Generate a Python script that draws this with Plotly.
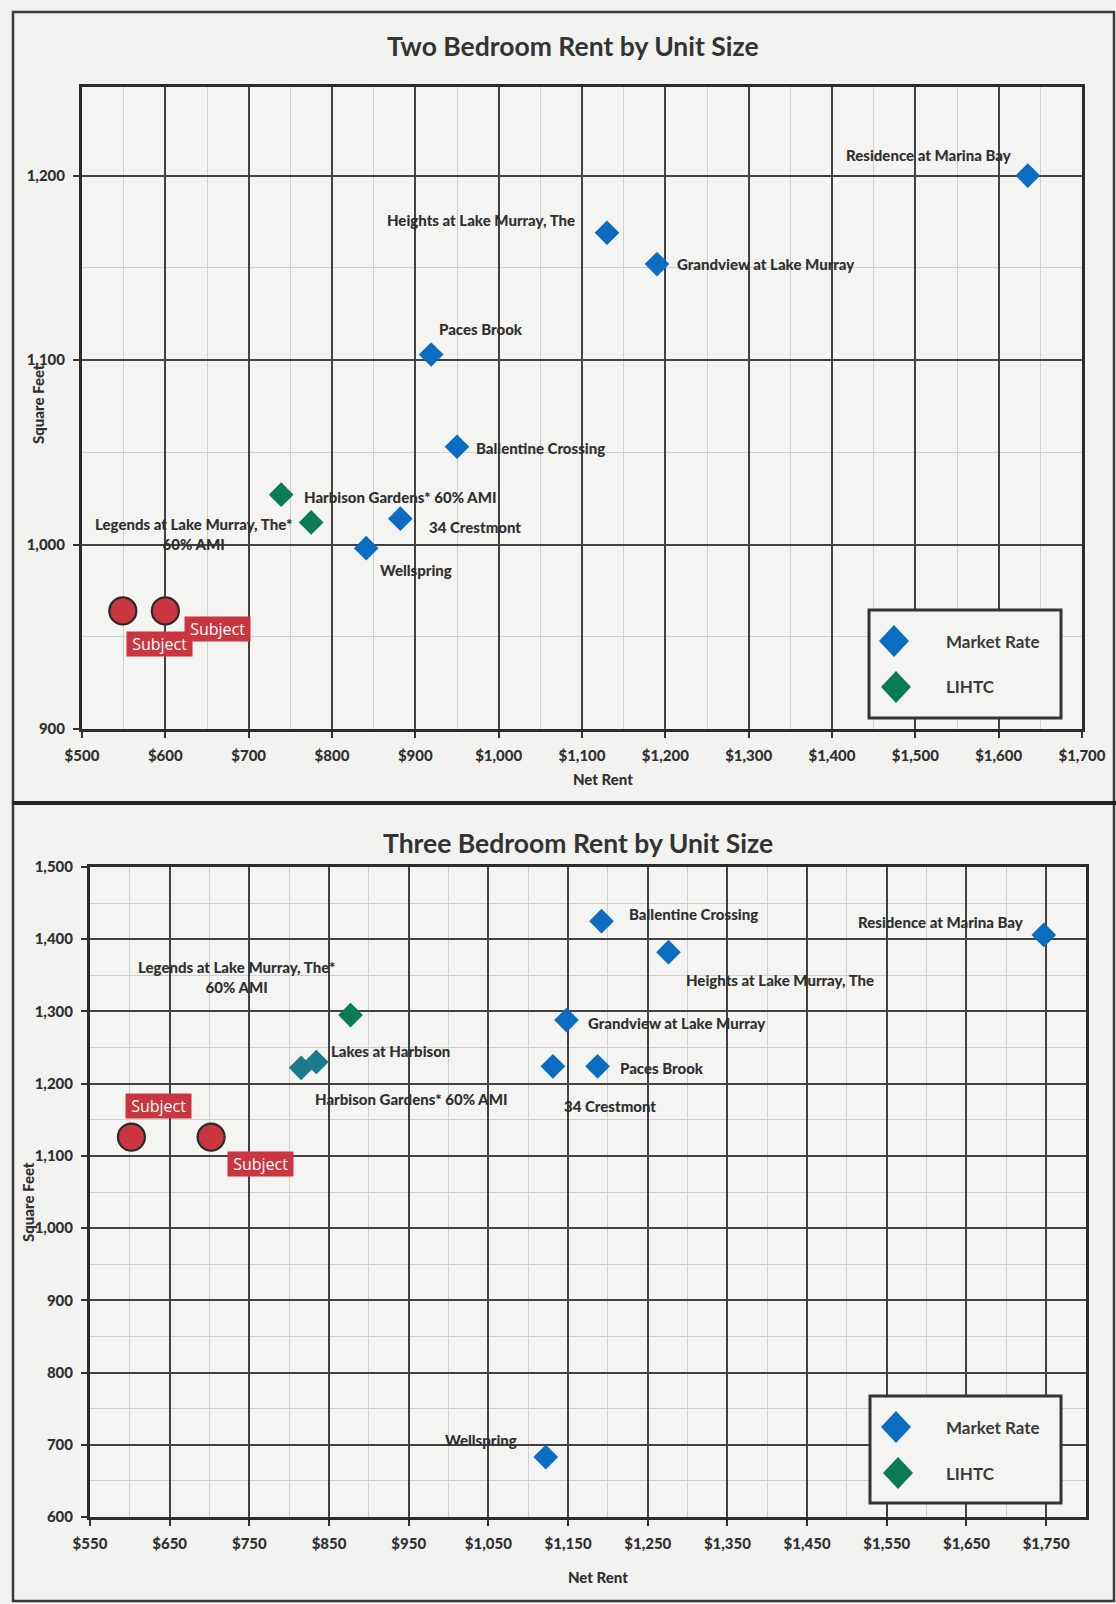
import plotly.graph_objects as go

# ---------------- Two bedroom comparables ----------------
two_mkt_names = ["Residence at Marina Bay", "Heights at Lake Murray, The", "Grandview at Lake Murray",
                 "Paces Brook", "Ballentine Crossing", "34 Crestmont", "Wellspring"]
two_mkt_rent = [1635, 1130, 1190, 919, 950, 882, 841]
two_mkt_sqft = [1200, 1169, 1152, 1103, 1053, 1014, 998]

two_lihtc_names = ["Harbison Gardens* 60% AMI", "Legends at Lake Murray, The*<br>60% AMI"]
two_lihtc_rent = [739, 775]
two_lihtc_sqft = [1027, 1012]

two_subject_rent = [549, 600]
two_subject_sqft = [964, 964]

# ---------------- Three bedroom comparables ----------------
three_mkt_names = ["Ballentine Crossing", "Residence at Marina Bay", "Heights at Lake Murray, The",
                   "Grandview at Lake Murray", "Paces Brook", "34 Crestmont", "Wellspring"]
three_mkt_rent = [1192, 1747, 1276, 1148, 1187, 1131, 1122]
three_mkt_sqft = [1425, 1406, 1382, 1288, 1224, 1224, 683]

three_lihtc_names = ["Legends at Lake Murray, The*<br>60% AMI"]
three_lihtc_rent = [877]
three_lihtc_sqft = [1295]

three_harbison_names = ["Lakes at Harbison", "Harbison Gardens* 60% AMI"]
three_harbison_rent = [834, 815]
three_harbison_sqft = [1230, 1222]

three_subject_rent = [602, 702]
three_subject_sqft = [1126, 1126]

# Axis ranges
two_x_range = [500, 1700]
two_y_range = [900, 1248]
three_x_range = [550, 1800]
three_y_range = [600, 1500]

# Label placement: (xanchor, xshift px, yshift px)
two_mkt_pos = [("right", -14, 21), ("right", -30, 13), ("left", 18, 0), ("center", 50, 26),
               ("left", 17, -1), ("left", 27, -8), ("left", 12, -22)]
two_lihtc_pos = [("left", 21, -2), ("right", -17, -12)]
two_subject_pos = [("left", 3, -33), ("left", 19, -18)]

three_mkt_pos = [("left", 25, 7), ("right", -18, 13), ("left", 16, -28), ("left", 20, -3),
                 ("left", 20, -2), ("left", 9, -40), ("right", -27, 17)]
three_lihtc_pos = [("right", -14, 38)]
three_harbison_pos = [("left", 13, 11), ("left", 12, -31)]
three_subject_pos = [("left", -6, 31), ("left", 16, -27)]

W, H = 1116, 1604
BLUE = "#0a6dc2"
GREEN = "#0b7a57"
TEAL = "#1b7a8c"
RED = "#c9363f"
INK = "#303030"
FONT = "Lato"


def px(x):
    return x / W


def py(y):
    return 1 - y / H


fig = go.Figure()


def add_group(xs, ys, color, xa, ya, symbol="diamond", size=19, line=None):
    fig.add_trace(go.Scatter(
        x=xs, y=ys, mode="markers", xaxis=xa, yaxis=ya, showlegend=False,
        marker=dict(symbol=symbol, size=size, color=color,
                    line=line or dict(width=0)),
        hoverinfo="x+y"))


def add_labels(names, xs, ys, pos, xa, ya):
    for n, x, y, (anc, dx, dy) in zip(names, xs, ys, pos):
        fig.add_annotation(x=x, y=y, xref=xa, yref=ya, text=n, showarrow=False,
                           xanchor=anc, yanchor="middle", xshift=dx, yshift=dy,
                           align="center",
                           font=dict(family=FONT, size=15, color=INK, weight=900))


def add_subject_tags(xs, ys, pos, xa, ya):
    for x, y, (anc, dx, dy) in zip(xs, ys, pos):
        fig.add_annotation(x=x, y=y, xref=xa, yref=ya, text="\u00a0Subject\u00a0", showarrow=False,
                           xanchor=anc, yanchor="middle", xshift=dx, yshift=dy,
                           bgcolor=RED, borderpad=1,
                           font=dict(family="Open Sans", size=16, color="white"))


subject_line = dict(width=2.2, color="#2b2b2b")

# Top chart marks
add_group(two_mkt_rent, two_mkt_sqft, BLUE, "x", "y")
add_group(two_lihtc_rent, two_lihtc_sqft, GREEN, "x", "y")
add_group(two_subject_rent, two_subject_sqft, RED, "x", "y", symbol="circle", size=27, line=subject_line)
add_labels(two_mkt_names, two_mkt_rent, two_mkt_sqft, two_mkt_pos, "x", "y")
add_labels(two_lihtc_names, two_lihtc_rent, two_lihtc_sqft, two_lihtc_pos, "x", "y")
add_subject_tags(two_subject_rent, two_subject_sqft, two_subject_pos, "x", "y")

# Bottom chart marks
add_group(three_mkt_rent, three_mkt_sqft, BLUE, "x2", "y2")
add_group(three_lihtc_rent, three_lihtc_sqft, GREEN, "x2", "y2")
add_group(three_harbison_rent, three_harbison_sqft, TEAL, "x2", "y2")
add_group(three_subject_rent, three_subject_sqft, RED, "x2", "y2", symbol="circle", size=27, line=subject_line)
add_labels(three_mkt_names, three_mkt_rent, three_mkt_sqft, three_mkt_pos, "x2", "y2")
add_labels(three_lihtc_names, three_lihtc_rent, three_lihtc_sqft, three_lihtc_pos, "x2", "y2")
add_labels(three_harbison_names, three_harbison_rent, three_harbison_sqft, three_harbison_pos, "x2", "y2")
add_subject_tags(three_subject_rent, three_subject_sqft, three_subject_pos, "x2", "y2")

tickfont = dict(family=FONT, size=15, color=INK, weight=900)
axis_common = dict(showline=True, mirror=True, linecolor="#2c2c2c", linewidth=3,
                   ticks="outside", ticklen=6, tickwidth=1.5, tickcolor="#333",
                   showgrid=True, gridcolor="#424242", gridwidth=1.6,
                   zeroline=False, tickfont=tickfont, ticklabelstandoff=5,
                   automargin=False)


def minor(d, t0):
    return dict(dtick=d, tick0=t0, showgrid=True, gridcolor="#cfcfcd", gridwidth=1.2)


title_font = dict(family=FONT, size=15, color=INK, weight=900)

fig.update_layout(
    width=W, height=H,
    margin=dict(l=0, r=0, t=0, b=0, pad=0, autoexpand=False),
    paper_bgcolor="#f2f2f0", plot_bgcolor="#f4f4f2",
    xaxis=dict(domain=[px(82), px(1082)], anchor="y", range=two_x_range, tick0=500, dtick=100,
               tickprefix="$", tickformat=",d", minor=minor(50, 500), **axis_common),
    yaxis=dict(domain=[py(729), py(87)], anchor="x", range=two_y_range, tick0=900, dtick=100,
               tickformat=",d", minor=minor(50, 900), **axis_common),
    xaxis2=dict(domain=[px(90), px(1086)], anchor="y2", range=three_x_range, tick0=550, dtick=100,
                tickprefix="$", tickformat=",d", minor=minor(50, 550), **axis_common),
    yaxis2=dict(domain=[py(1517), py(867)], anchor="x2", range=three_y_range, tick0=600, dtick=100,
                tickformat=",d", minor=minor(50, 600), **axis_common),
)


def paper_text(x, y, text, font, angle=0, xanchor="center"):
    fig.add_annotation(x=px(x), y=py(y), xref="paper", yref="paper", showarrow=False,
                       xanchor=xanchor, yanchor="middle", text=text, textangle=angle,
                       font=font)


# Chart titles and axis titles
big = dict(family=FONT, size=26.5, color="#333", weight="bold")
paper_text(573, 46, "Two Bedroom Rent by Unit Size", big)
paper_text(578, 843, "Three Bedroom Rent by Unit Size", big)
paper_text(603, 779, "Net Rent", title_font)
paper_text(598, 1577, "Net Rent", title_font)
paper_text(38, 404, "Square Feet", title_font, angle=-90)
paper_text(28, 1202, "Square Feet", title_font, angle=-90)

# Chart frames
shapes = [
    dict(type="rect", xref="paper", yref="paper", x0=px(13), x1=px(1114), y0=py(803), y1=py(12),
         line=dict(color="#3a3a3a", width=2.5)),
    dict(type="rect", xref="paper", yref="paper", x0=px(13), x1=px(1114), y0=py(1601), y1=py(803),
         line=dict(color="#3a3a3a", width=2.5)),
    dict(type="line", xref="paper", yref="paper", x0=px(13), x1=px(1116), y0=py(803), y1=py(803),
         line=dict(color="#222", width=4)),
]


# Legend boxes with diamond swatches
def legend_box(x0, y0, x1, y1, items):
    shapes.append(dict(type="rect", xref="paper", yref="paper", x0=px(x0), x1=px(x1),
                       y0=py(y1), y1=py(y0), fillcolor="#f4f4f2",
                       line=dict(color="#333", width=3)))
    for (cx, cy, color, label) in items:
        shapes.append(dict(type="path", xref="paper", yref="paper",
                           xsizemode="pixel", ysizemode="pixel",
                           xanchor=px(cx), yanchor=py(cy),
                           path="M -15 0 L 0 16 L 15 0 L 0 -16 Z",
                           fillcolor=color, line=dict(width=0)))
        paper_text(944, cy, label, dict(family=FONT, size=17, color="#3a3a3a", weight="bold"),
                   xanchor="left")


legend_box(869, 610, 1061, 718, [(894, 641, BLUE, "Market Rate"), (896, 687, GREEN, "LIHTC")])
legend_box(870, 1396, 1061, 1503, [(896, 1427, BLUE, "Market Rate"), (898, 1473, GREEN, "LIHTC")])

fig.update_layout(shapes=shapes)

fig.write_html("out.html")
